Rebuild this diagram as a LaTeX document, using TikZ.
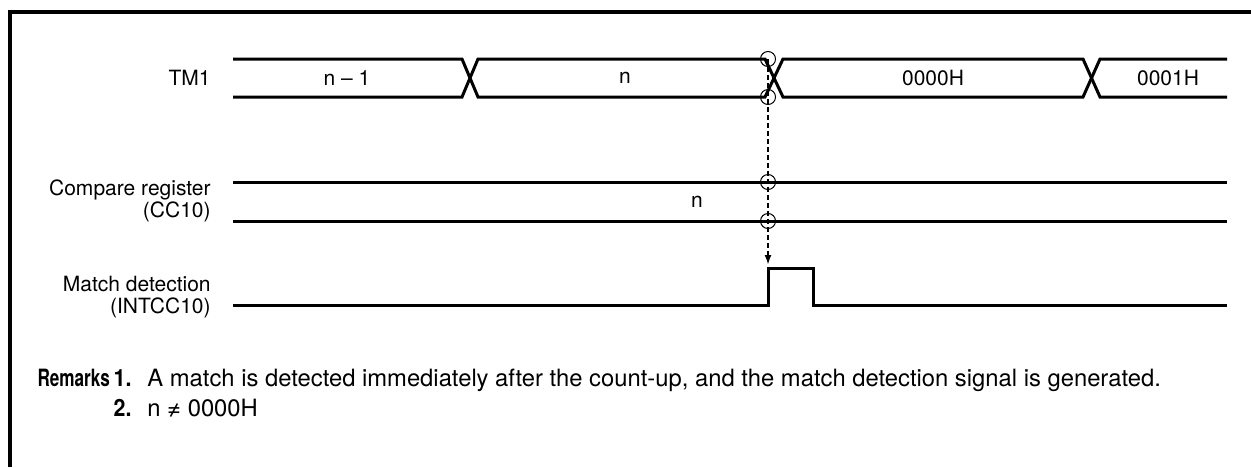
\documentclass[tikz,border=0pt]{standalone}
\usepackage{fontspec}
\setmainfont{TeX Gyre Heros}
\usetikzlibrary{arrows.meta}

\tikzset{
    sig/.style={line width=1.5pt},
    ring/.style={circle, draw, line width=0.5pt, minimum size=7.5pt, inner sep=0pt},
    lbl/.style={anchor=east, align=right, inner sep=0pt, font=\fontsize{10.5}{11}\selectfont},
    txt/.style={inner sep=0pt, font=\fontsize{10.5}{11}\selectfont},
    note/.style={inner sep=0pt, font=\fontsize{11.9}{13}\selectfont},
}

\begin{document}
\begin{tikzpicture}[x=0.5pt, y=-0.5pt]
    \useasboundingbox (0,0) rectangle (1251,467);

    % Frame
    \draw[line width=2pt] (10,467) -- (10,12) -- (1251,12);

    % Signal names
    \node[lbl] (tmname) at (211,78) {TM1};
    \node[lbl] (ccname) at (211,201) {Compare register\\(CC10)};
    \node[lbl] (intname) at (211,297) {Match detection\\(INTCC10)};

    % TM1 bus
    \draw[sig] (233,59) -- (462,59) -- (478,97) -- (765,97) -- (783,59)
        -- (1083,59) -- (1100,97) -- (1227,97);
    \draw[sig] (233,97) -- (462,97) -- (478,59) -- (765,59) -- (783,97)
        -- (1083,97) -- (1100,59) -- (1227,59);
    \foreach \x/\val [count=\i] in {347/{n -- 1}, 625/n, 933/0000H, 1168/0001H} {
        \node[txt] (tm\i) at (\x,78) {\val};
    }

    % Compare register
    \draw[sig] (233,182) -- (1227,182);
    \draw[sig] (233,221) -- (1227,221);
    \node[txt] (ccval) at (697,202) {n};

    % Match detection
    \draw[sig] (233,305) -- (768,305) -- (768,268) -- (813,268) -- (813,305) -- (1227,305);

    % Match points
    \node[ring] (p1) at (768,59) {};
    \node[ring] (p2) at (768,97) {};
    \node[ring] (p3) at (768,182) {};
    \node[ring] (p4) at (768,221) {};
    \coordinate (hit) at (768,265);
    \draw[line width=1pt, dash pattern=on 2.5pt off 1.5pt,
        -{Latex[length=5pt, width=3.5pt]}] (p1.center) -- (hit);

    % Remarks
    \node[note, anchor=base east] (rem1) at (132,386)
        {\scalebox{0.72}[1]{\textbf{Remarks}}\,\scalebox{0.9}[1]{\textbf{1.}}};
    \node[note, anchor=base west] (rem1t) at (147,386)
        {A match is detected immediately after the count-up, and the match detection signal is generated.};
    \node[note, anchor=base east] (rem2) at (132,416) {\scalebox{0.9}[1]{\textbf{2.}}};
    \node[note, anchor=base west] (rem2t) at (147,416) {n ≠ 0000H};
\end{tikzpicture}
\end{document}
